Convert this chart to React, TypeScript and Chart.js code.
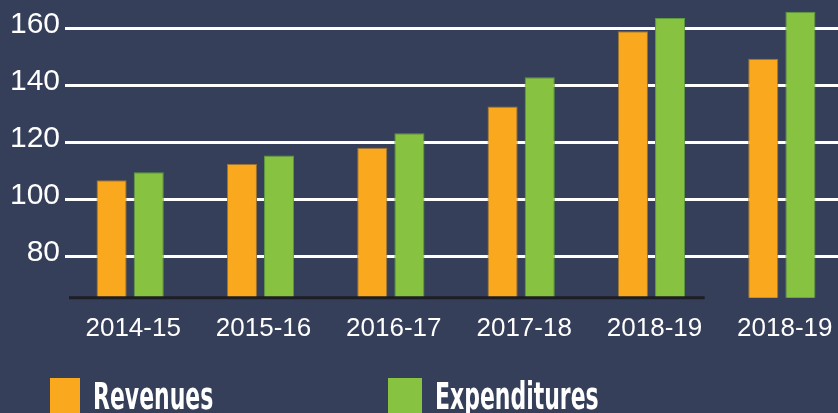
import React, { useEffect, useRef } from "react";
import { Chart, registerables } from "chart.js";

Chart.register(...registerables);

const categories = ["2014-15", "2015-16", "2016-17", "2017-18", "2018-19", "2018-19"];
const revenues = [106.7, 112.4, 118.1, 132.6, 159, 149.4];
const expenditures = [109.5, 115.4, 123.2, 142.9, 163.7, 165.9];
const yTicks = [80, 100, 120, 140, 160];

const BG = "#353f5a";
const ORANGE = "#faa81e";
const GREEN = "#87c341";

const baselinePlugin = {
  id: "baseline",
  afterDatasetsDraw(chart: any) {
    const { ctx, chartArea, scales } = chart;
    const x = scales.x;
    const step = x.getPixelForValue(1) - x.getPixelForValue(0);
    const end = x.getPixelForValue(4) + step / 2 - 12;
    ctx.save();
    ctx.strokeStyle = "#1d1e24";
    ctx.lineWidth = 3;
    ctx.beginPath();
    ctx.moveTo(chartArea.left + 4, chartArea.bottom);
    ctx.lineTo(end, chartArea.bottom);
    ctx.stroke();
    ctx.restore();
  },
};

export default function App() {
  const ref = useRef<HTMLCanvasElement>(null);
  useEffect(() => {
    if (!ref.current) return;
    const chart = new Chart(ref.current, {
      type: "bar",
      data: {
        labels: categories,
        datasets: [
          {
            label: "Revenues",
            data: revenues,
            backgroundColor: ORANGE,
            borderColor: "#9a7434",
            borderWidth: 1,
          },
          {
            label: "Expenditures",
            data: expenditures,
            backgroundColor: GREEN,
            borderColor: "#5e9a3e",
            borderWidth: 1,
          },
        ],
      },
      options: {
        animation: false,
        responsive: false,
        devicePixelRatio: 1,
        layout: { padding: 0 },
        datasets: {
          bar: { categoryPercentage: 0.57, barPercentage: 0.81 },
        },
        plugins: { legend: { display: false }, tooltip: { enabled: false } },
        scales: {
          x: {
            grid: { display: false, drawTicks: false },
            border: { display: false },
            ticks: {
              color: "#ffffff",
              font: { family: "'Liberation Sans', Arial, sans-serif", size: 26 },
              padding: 16,
              labelOffset: 3,
              maxRotation: 0,
              autoSkip: false,
            },
            afterFit: (a: any) => {
              a.height = 413 - 297.7;
              a.paddingLeft = 0;
              a.paddingRight = 0;
            },
          },
          y: {
            min: 65.5,
            max: 170,
            afterBuildTicks: (a: any) => {
              a.ticks = yTicks.map((v) => ({ value: v }));
            },
            grid: { color: "#ffffff", lineWidth: 3, drawTicks: false },
            border: { display: false },
            ticks: {
              color: "#ffffff",
              font: { family: "'Liberation Sans', Arial, sans-serif", size: 30 },
              padding: 5,
              labelOffset: -4,
            },
            afterFit: (a: any) => {
              a.width = 65;
              a.paddingTop = 0;
              a.paddingBottom = 0;
            },
          },
        },
      },
      plugins: [baselinePlugin],
    });
    return () => chart.destroy();
  }, []);

  const legendFont: React.CSSProperties = {
    position: "absolute",
    top: 378,
    fontFamily: "'Liberation Sans Narrow', 'DejaVu Sans Condensed', sans-serif",
    fontWeight: "bold",
    fontSize: 37,
    lineHeight: "37px",
    color: "#ffffff",
    whiteSpace: "nowrap",
    transformOrigin: "left top",
  };

  return (
    <div
      style={{
        position: "fixed",
        left: 0,
        top: 0,
        width: 838,
        height: 413,
        overflow: "hidden",
        background: BG,
      }}
    >
      <canvas ref={ref} width={847} height={413} style={{ display: "block" }} />
      <div style={{ position: "absolute", left: 50, top: 378, width: 30, height: 35, background: ORANGE }} />
      <div style={{ ...legendFont, left: 93, transform: "scaleX(0.66)" }}>Revenues</div>
      <div style={{ position: "absolute", left: 388, top: 378, width: 34, height: 35, background: GREEN }} />
      <div style={{ ...legendFont, left: 435, transform: "scaleX(0.66)" }}>Expenditures</div>
    </div>
  );
}
